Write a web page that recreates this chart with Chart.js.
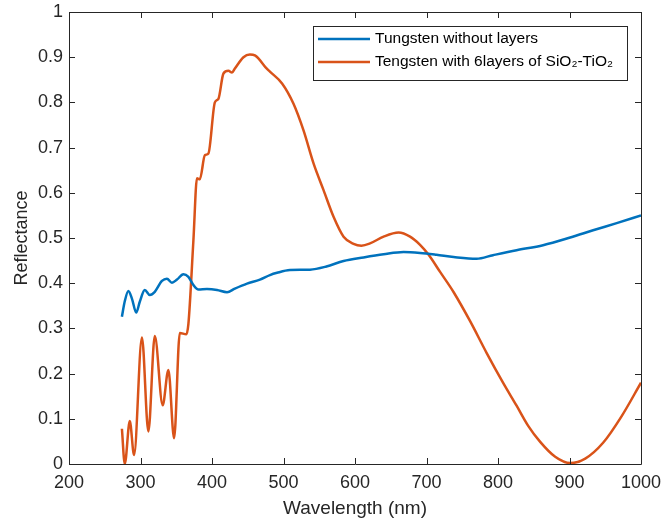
<!DOCTYPE html>
<html lang="en">
<head>
    <meta charset="UTF-8">
    <title>Reflectance</title>
    <script src="https://cdn.jsdelivr.net/npm/chart.js"></script>
    <style>
        body { margin: 0; padding: 0; overflow: hidden; background: white; }
        #chartBox { width: 662px; height: 522px; }
    </style>
</head>
<body>
    <div id="chartBox">
        <canvas id="chartCanvas" width="662" height="522"></canvas>
    </div>

    <script>
        // Tungsten without layers
        const plainWl = [274, 278, 283, 288, 294, 299, 306, 313, 320, 330, 337, 344, 351, 360, 367, 374, 381,
            393, 407, 421, 432, 449, 467, 481, 491, 509, 537, 560, 584, 612, 640, 668, 691, 714, 738,
            770, 793, 826, 863, 901, 933, 966, 1000];
        const plainR = [0.326, 0.360, 0.383, 0.366, 0.335, 0.359, 0.385, 0.374, 0.381, 0.405, 0.410, 0.401, 0.408,
            0.420, 0.414, 0.396, 0.386, 0.387, 0.385, 0.380, 0.388, 0.399, 0.408, 0.418, 0.423, 0.429, 0.430,
            0.437, 0.449, 0.457, 0.464, 0.469, 0.467, 0.463, 0.458, 0.454, 0.462, 0.473, 0.484, 0.501, 0.517,
            0.533, 0.550];

        // Tungsten with 6 layers of SiO2-TiO2
        const coatedWl = [274, 278, 285, 291, 302, 311, 320, 331, 339, 347, 355, 364, 367, 374, 379, 383, 390,
            395, 404, 409, 416, 423, 428, 432, 444, 453, 460, 477, 481, 498, 514, 528, 542, 556, 570, 584,
            598, 609, 621, 640, 661, 677, 691, 703, 719, 738, 761, 784, 807, 826, 842, 859, 880, 901, 922,
            947, 973, 1000];
        const coatedR = [0.078, 0.000, 0.095, 0.020, 0.280, 0.072, 0.283, 0.130, 0.208, 0.057, 0.290, 0.287,
            0.310, 0.495, 0.632, 0.630, 0.683, 0.687, 0.800, 0.808, 0.864, 0.870, 0.866, 0.875, 0.900, 0.906,
            0.904, 0.874, 0.868, 0.842, 0.797, 0.738, 0.665, 0.606, 0.547, 0.503, 0.487, 0.483, 0.488, 0.503,
            0.512, 0.503, 0.485, 0.463, 0.425, 0.380, 0.316, 0.246, 0.180, 0.129, 0.085, 0.049, 0.016, 0.002,
            0.012, 0.047, 0.106, 0.180];

        const seriesNames = ['Tungsten without layers', 'Tengsten with 6layers of SiO\u2082-TiO\u2082'];
        const seriesColors = ['#0072BD', '#D95319'];
        const xTicks = [200, 300, 400, 500, 600, 700, 800, 900, 1000];
        const yTicks = [0, 0.1, 0.2, 0.3, 0.4, 0.5, 0.6, 0.7, 0.8, 0.9, 1];

        const axisColor = '#262626';
        const fontFamily = '"Liberation Sans", Arial, sans-serif';

        function toPoints(xs, ys) {
            return xs.map((x, i) => ({ x: x, y: ys[i] }));
        }

        // box round the plot with ticks pointing inwards, like MATLAB
        const framePlugin = {
            id: 'frame',
            afterDatasetsDraw(chart) {
                const { ctx, chartArea: a, scales } = chart;
                const len = 6;
                ctx.save();
                ctx.strokeStyle = axisColor;
                ctx.lineWidth = 1;
                ctx.beginPath();
                ctx.rect(Math.round(a.left) + 0.5, Math.round(a.top) + 0.5,
                    Math.round(a.right - a.left), Math.round(a.bottom - a.top));
                xTicks.forEach(v => {
                    const px = Math.round(scales.x.getPixelForValue(v)) + 0.5;
                    ctx.moveTo(px, a.bottom); ctx.lineTo(px, a.bottom - len);
                    ctx.moveTo(px, a.top); ctx.lineTo(px, a.top + len);
                });
                yTicks.forEach(v => {
                    const py = Math.round(scales.y.getPixelForValue(v)) + 0.5;
                    ctx.moveTo(a.left, py); ctx.lineTo(a.left + len, py);
                    ctx.moveTo(a.right, py); ctx.lineTo(a.right - len, py);
                });
                ctx.stroke();
                ctx.restore();
            }
        };

        // legend inside the plot, top right
        const legendPlugin = {
            id: 'insideLegend',
            afterDraw(chart) {
                const { ctx, chartArea: a } = chart;
                const boxW = 314, boxH = 54;
                const bx = a.right - 14 - boxW, by = a.top + 14;
                ctx.save();
                ctx.fillStyle = 'white';
                ctx.fillRect(bx, by, boxW, boxH);
                ctx.strokeStyle = axisColor;
                ctx.lineWidth = 1;
                ctx.strokeRect(bx + 0.5, by + 0.5, boxW, boxH);
                ctx.font = '15.5px ' + fontFamily;
                ctx.textBaseline = 'middle';
                chart.data.datasets.forEach((ds, i) => {
                    const ry = by + 13 + i * 23;
                    ctx.strokeStyle = ds.borderColor;
                    ctx.lineWidth = 2.5;
                    ctx.beginPath();
                    ctx.moveTo(bx + 5, ry);
                    ctx.lineTo(bx + 57, ry);
                    ctx.stroke();
                    ctx.fillStyle = '#000';
                    ctx.fillText(ds.label, bx + 62, ry);
                });
                ctx.restore();
            }
        };

        function init() {
            const ctx = document.getElementById('chartCanvas').getContext('2d');
            new Chart(ctx, {
                type: 'line',
                data: {
                    datasets: [{
                        label: seriesNames[0],
                        data: toPoints(plainWl, plainR),
                        borderColor: seriesColors[0],
                        borderWidth: 2.5,
                        pointRadius: 0,
                        cubicInterpolationMode: 'monotone',
                        fill: false
                    }, {
                        label: seriesNames[1],
                        data: toPoints(coatedWl, coatedR),
                        borderColor: seriesColors[1],
                        borderWidth: 2.5,
                        pointRadius: 0,
                        cubicInterpolationMode: 'monotone',
                        fill: false
                    }]
                },
                options: {
                    responsive: false,
                    animation: false,
                    devicePixelRatio: 1,
                    layout: { padding: 0 },
                    plugins: {
                        legend: { display: false },
                        tooltip: { enabled: false }
                    },
                    scales: {
                        x: {
                            type: 'linear',
                            min: 200,
                            max: 1000,
                            afterBuildTicks(scale) { scale.ticks = xTicks.map(v => ({ value: v })); },
                            afterFit(scale) {
                                scale.height = 58;
                                scale.paddingRight = 21;
                                scale.paddingLeft = 0;
                            },
                            grid: { display: false, drawTicks: false },
                            border: { display: false },
                            ticks: {
                                padding: 8,
                                color: axisColor,
                                font: { family: fontFamily, size: 18 },
                                maxRotation: 0,
                                callback: v => String(v)
                            },
                            title: {
                                display: true,
                                text: 'Wavelength (nm)',
                                color: axisColor,
                                font: { family: fontFamily, size: 19 },
                                padding: { top: 0, bottom: 2 }
                            }
                        },
                        y: {
                            type: 'linear',
                            min: 0,
                            max: 1,
                            afterBuildTicks(scale) { scale.ticks = yTicks.map(v => ({ value: v })); },
                            afterFit(scale) {
                                scale.width = 69;
                                scale.paddingTop = 12;
                                scale.paddingBottom = 0;
                            },
                            grid: { display: false, drawTicks: false },
                            border: { display: false },
                            ticks: {
                                padding: 6,
                                color: axisColor,
                                font: { family: fontFamily, size: 18 },
                                callback: v => String(+v.toFixed(1))
                            },
                            title: {
                                display: true,
                                text: 'Reflectance',
                                color: axisColor,
                                font: { family: fontFamily, size: 18 },
                                padding: { top: 11, bottom: 0 }
                            }
                        }
                    }
                },
                plugins: [framePlugin, legendPlugin]
            });
        }

        window.onload = init;
    </script>
</body>
</html>
